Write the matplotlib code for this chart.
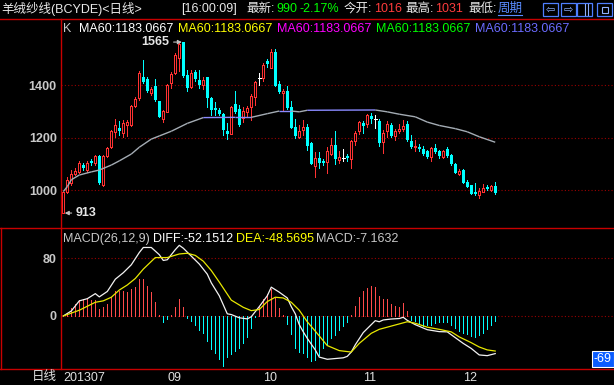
import numpy as np
import matplotlib
matplotlib.use("Agg")
import matplotlib.pyplot as plt
from matplotlib.lines import Line2D
from matplotlib.patches import Rectangle
from matplotlib.collections import LineCollection

plt.rcParams['font.family'] = ['Liberation Sans', 'Noto Sans CJK SC', 'DejaVu Sans']

# Daily candles
opens = [915, 995, 1027, 1063, 1071, 1097, 1077, 1112, 1103, 1131,
         1020, 1132, 1163, 1223, 1236, 1220, 1249, 1249, 1323, 1350,
         1433, 1425, 1369, 1396, 1339, 1272, 1300, 1408, 1448, 1503,
         1565, 1439, 1395, 1450, 1420, 1401, 1430, 1353, 1312, 1306,
         1290, 1226, 1215, 1328, 1310, 1277, 1297, 1319, 1357, 1427,
         1427, 1493, 1467, 1526, 1404, 1372, 1378, 1319, 1241, 1204,
         1230, 1241, 1182, 1094, 1124, 1110, 1109, 1138, 1173, 1116,
         1124, 1132, 1119, 1188, 1224, 1258, 1251, 1283, 1271, 1264,
         1183, 1226, 1249, 1208, 1224, 1234, 1253, 1188, 1163, 1166,
         1157, 1150, 1126, 1160, 1150, 1128, 1156, 1135, 1100, 1062,
         1077, 1033, 1020, 995, 982, 995, 1014, 1001, 1016]
highs = [995, 1052, 1077, 1086, 1112, 1103, 1112, 1119, 1135, 1135,
         1135, 1166, 1230, 1270, 1264, 1267, 1268, 1325, 1357, 1455,
         1498, 1430, 1394, 1425, 1342, 1306, 1404, 1452, 1522, 1560,
         1565, 1458, 1458, 1458, 1458, 1433, 1433, 1357, 1338, 1312,
         1293, 1255, 1321, 1378, 1325, 1319, 1321, 1366, 1417, 1446,
         1484, 1500, 1538, 1538, 1417, 1385, 1397, 1340, 1272, 1249,
         1268, 1253, 1185, 1147, 1144, 1119, 1166, 1201, 1226, 1150,
         1157, 1138, 1192, 1226, 1264, 1264, 1292, 1293, 1287, 1272,
         1230, 1264, 1255, 1232, 1251, 1267, 1264, 1211, 1190, 1177,
         1169, 1154, 1163, 1175, 1154, 1154, 1164, 1137, 1103, 1081,
         1081, 1039, 1020, 1027, 1010, 1024, 1020, 1020, 1031]
lows = [913, 990, 1020, 1058, 1065, 1077, 1071, 1097, 1097, 1024,
        1018, 1128, 1160, 1204, 1211, 1204, 1207, 1246, 1319, 1344,
        1410, 1375, 1362, 1340, 1278, 1259, 1297, 1389, 1445, 1456,
        1432, 1378, 1389, 1417, 1389, 1386, 1319, 1287, 1287, 1287,
        1211, 1194, 1213, 1293, 1245, 1262, 1281, 1268, 1325, 1401,
        1417, 1471, 1465, 1399, 1370, 1306, 1310, 1236, 1201, 1201,
        1211, 1154, 1099, 1052, 1086, 1097, 1064, 1135, 1099, 1103,
        1112, 1112, 1086, 1173, 1213, 1217, 1243, 1255, 1239, 1170,
        1141, 1204, 1204, 1192, 1217, 1224, 1188, 1160, 1150, 1150,
        1135, 1122, 1112, 1141, 1124, 1124, 1128, 1097, 1064, 1058,
        1027, 1011, 985, 982, 970, 992, 1000, 997, 987]
closes = [992, 1038, 1061, 1073, 1103, 1084, 1105, 1102, 1131, 1027,
          1132, 1160, 1224, 1248, 1224, 1258, 1262, 1321, 1347, 1448,
          1413, 1378, 1385, 1343, 1280, 1303, 1401, 1442, 1516, 1556,
          1437, 1389, 1446, 1424, 1401, 1420, 1350, 1306, 1306, 1290,
          1230, 1213, 1319, 1297, 1249, 1302, 1315, 1359, 1411, 1427,
          1478, 1480, 1526, 1399, 1376, 1378, 1315, 1239, 1208, 1226,
          1241, 1170, 1100, 1124, 1104, 1102, 1150, 1173, 1119, 1127,
          1124, 1123, 1188, 1217, 1259, 1246, 1287, 1271, 1271, 1182,
          1217, 1251, 1208, 1225, 1234, 1246, 1192, 1163, 1168, 1157,
          1138, 1126, 1160, 1147, 1132, 1150, 1132, 1100, 1067, 1075,
          1029, 1014, 986, 985, 997, 1010, 1005, 1018, 990]

# MA60 line, sampled points
ma_idx = [0, 1, 2, 4, 7, 9, 12, 14, 17, 19, 22, 24, 27, 31, 35, 43, 47, 51,
          54, 57, 59, 61, 78, 81, 84, 88, 91, 94, 98, 101, 104, 108]
ma_vals = [995, 1014, 1040, 1058, 1070, 1077, 1096, 1112, 1138, 1164, 1195,
           1207, 1225, 1255, 1277, 1278, 1278, 1292, 1302, 1302, 1299, 1305,
           1306, 1299, 1290, 1280, 1260, 1247, 1235, 1223, 1204, 1183]

# MACD(26,12,9)
macd_hist = [0, 4.6, 10.6, 16.6, 22, 23, 23.5, 22, 22, 9.7,
             13, 16, 27, 35, 34, 35, 33, 38, 40, 51.5,
             51.5, 42, 33.5, 20, 0.8, -9, -4.4, 1.4, 13, 24,
             13, -2.3, -6.5, -12.5, -20, -23.5, -34, -46, -52, -60,
             -69, -57, -53, -48, -45, -37, -29, -17, -1.5, 13,
             23, 31, 37.5, 25, 11, 1, -11, -25, -44, -50,
             -51, -57, -63, -61, -54, -45, -40, -31, -26, -19,
             -14, -9, 1, 14, 26, 34, 39, 41.5, 40, 28,
             23, 24, 16, 14, 13, 18, 7, -5, -7, -10,
             -13.5, -12, -13, -10, -9, -8.5, -8, -12, -17, -21,
             -23, -25, -28, -29, -27, -24, -18, -12, -7.2]
diff_idx = [0, 2, 4, 6, 8, 9, 11, 13, 15, 17, 19, 20, 22, 24, 25, 26, 28, 29,
            30, 32, 34, 36, 37, 39, 41, 42, 44, 46, 47, 49, 51, 52, 54, 56,
            57, 58, 59, 60, 61, 63, 64, 66, 68, 70, 71, 72, 73, 75, 78, 79,
            80, 82, 84, 85, 86, 88, 91, 94, 96, 98, 100, 102, 104, 106, 108]
diff_vals = [0, 7, 21, 24, 31, 26.5, 34, 51, 60, 71, 88, 95, 95, 85, 77, 78,
             92, 98, 94, 83, 72, 58, 46, 28, 3, 2, -2.5, -4, -1, 13, 28, 40,
             33, 25, 13, 3, -12, -22, -31, -47, -57, -60, -59, -58, -56, -50,
             -40, -23, -6.5, -8, -5.5, -4.2, -3.5, -1.8, -6, -12, -19, -21.7,
             -22, -30, -38, -45, -54, -55, -52.15]
dea_idx = [0, 4, 8, 10, 12, 14, 16, 18, 20, 23, 26, 29, 31, 33, 35, 37, 39,
           42, 45, 47, 49, 51, 53, 55, 57, 59, 61, 63, 66, 69, 72, 74, 77, 79,
           82, 84, 86, 88, 91, 94, 97, 99, 102, 104, 106, 108]
dea_vals = [0, 8, 19, 21, 26, 36, 43, 52, 65, 81, 81, 86, 87, 84, 76, 63, 47,
            22, 12, 7.4, 9, 20, 26, 25, 19, 8, -8, -21, -41, -48, -50, -38,
            -24, -18.5, -14, -11, -8, -10, -15.5, -18.5, -22, -29, -37, -43,
            -47, -48.57]

month_pos = [0, 26, 50, 75, 100]
month_labels = ['201307', '09', '10', '11', '12']

RED = '#ff3232'
CYAN = '#00ffff'
FRAME = '#c80000'
GRID = '#9a0000'
LABEL = '#c8c8c8'
PX = 0.72  # one pixel in points at 100 dpi

W, H = 614, 385


def fx(px):
    return px / W


def fy(py):
    return 1 - py / H


def frame_line(x0, y0, x1, y1):
    fig.add_artist(Line2D([fx(x0), fx(x1)], [fy(y0), fy(y1)], color=FRAME,
                          lw=1.0, transform=fig.transFigure))


fig = plt.figure(figsize=(6.14, 3.85), dpi=100, facecolor='black')
ax_k = fig.add_axes([fx(61), fy(228), fx(614 - 61), (228 - 19) / H])
ax_m = fig.add_axes([fx(61), fy(369), fx(614 - 61), (369 - 228) / H])

for ax in (ax_k, ax_m):
    ax.set_facecolor('black')
    for s in ax.spines.values():
        s.set_visible(False)
    ax.set_xlim(-0.58, 137.7)
    ax.tick_params(axis='both', length=0, pad=3, labelcolor=LABEL, labelsize=9)

ax_k.set_ylim(856, 1653)
ax_m.set_ylim(-73.5, 122)
ax_k.set_yticks([1000, 1200, 1400])
ax_m.set_yticks([0, 80])
for ax in (ax_k, ax_m):
    for lab in ax.get_yticklabels():
        lab.set_fontweight('bold')
    ax.grid(axis='y', color=GRID, linestyle=(0, (1, 2)), lw=0.8)
    ax.set_axisbelow(True)
ax_k.set_xticks([])

# ---- candles
idx = np.arange(len(closes))
o, h, l, c = (np.array(v, dtype=float) for v in (opens, highs, lows, closes))
up = c > o
dn = c < o
dj = c == o
ax_k.vlines(idx[up], l[up], h[up], color=RED, lw=PX, zorder=2, antialiased=False)
ax_k.bar(idx[up], c[up] - o[up], bottom=o[up], width=0.5, facecolor='black',
         edgecolor=RED, linewidth=PX, zorder=3, antialiased=False)
ax_k.vlines(idx[dn], l[dn], h[dn], color=CYAN, lw=PX, zorder=2, antialiased=False)
ax_k.bar(idx[dn], o[dn] - c[dn], bottom=c[dn], width=0.75, color=CYAN,
         linewidth=0, zorder=3, antialiased=False)
ax_k.vlines(idx[dj], l[dj], h[dj], color='white', lw=PX, zorder=2, antialiased=False)
ax_k.hlines(c[dj], idx[dj] - 0.4, idx[dj] + 0.4, color='white', lw=PX, zorder=3,
            antialiased=False)

# ---- MA60 (gray when moving, lavender when flat)
pts = np.column_stack([ma_idx, ma_vals])
segs = np.stack([pts[:-1], pts[1:]], axis=1)
slope = np.abs(np.diff(ma_vals) / np.diff(ma_idx))
seg_cols = ['#8a8aff' if s < 0.6 else '#a4acb4' for s in slope]
ax_k.add_collection(LineCollection(segs, colors=seg_cols, linewidths=1.0, zorder=4))

# high / low markers
ann_col = '#e6e6e6'
ax_k.annotate('1565', xy=(30, 1565), xytext=(-10, 0), textcoords='offset points',
              ha='right', va='center', color=ann_col, fontsize=9, fontweight='bold',
              arrowprops=dict(arrowstyle='-|>', color='#c0c0c0', lw=0.8,
                              mutation_scale=6, shrinkA=1, shrinkB=1))
ax_k.annotate('913', xy=(0, 913), xytext=(9, 0), textcoords='offset points',
              ha='left', va='center', color=ann_col, fontsize=9, fontweight='bold',
              arrowprops=dict(arrowstyle='-|>', color='#c0c0c0', lw=0.8,
                              mutation_scale=6, shrinkA=1, shrinkB=1))

# ---- MACD panel
hist = np.array(macd_hist)
pos = hist >= 0
ax_m.vlines(idx[pos], 0, hist[pos], color='#ff4a4a', lw=PX, antialiased=False)
ax_m.vlines(idx[~pos], 0, hist[~pos], color=CYAN, lw=PX, antialiased=False)
ax_m.plot(diff_idx, diff_vals, color='#f2f2f2', lw=0.9)
ax_m.plot(dea_idx, dea_vals, color='#e8e800', lw=0.9)

ax_m.set_xticks(month_pos, month_labels)
ax_m.tick_params(axis='x', pad=2, labelcolor='#e0e0e0', labelsize=9)
for lab in ax_m.get_xticklabels():
    lab.set_horizontalalignment('left')

# ---- frame lines
frame_line(0, 18.7, 614, 18.7)
frame_line(0, 228, 614, 228)
frame_line(0, 369, 614, 369)
frame_line(61, 18.7, 61, 369)
frame_line(1, 228, 1, 369)

# ---- title bar
ty = fy(9)
fig.text(fx(1), ty, '羊绒纱线(BCYDE)<日线>', color='#e8e8e8', fontsize=9, va='center')
title_parts = [(181, '[16:00:09]', '#e8e8e8'), (246, '最新:', '#e8e8e8'),
               (276, '990', '#00ff00'), (300, '-2.17%', '#00ff00'),
               (344, '今开:', '#e8e8e8'), (374, '1016', '#ff3c3c'),
               (405, '最高:', '#e8e8e8'), (435, '1031', '#ff3c3c'),
               (468, '最低:', '#e8e8e8')]
for px, txt, col in title_parts:
    fig.text(fx(px), ty, txt, color=col, fontsize=9, va='center')
fig.text(fx(498), ty, '周期', color='#5a8cff', fontsize=9, va='center')
fig.add_artist(Line2D([fx(498), fx(522)], [fy(15), fy(15)], color='#5a8cff', lw=0.8,
                      transform=fig.transFigure))
icons = [(543, '⇦'), (561, '⇨'), (577, ''), (597, '')]
for px, glyph in icons:
    fig.add_artist(Rectangle((fx(px), fy(16)), fx(15), 13 / H, fill=False,
                             edgecolor='#4f7fff', lw=0.9, transform=fig.transFigure))
    if glyph:
        fig.text(fx(px + 7.5), fy(9.5), glyph, color='#8fb0ff', fontsize=8,
                 ha='center', va='center', family='DejaVu Sans')
fig.add_artist(Line2D([fx(585), fx(585)], [fy(4), fy(15)], color='#8fb0ff', lw=0.8,
                      transform=fig.transFigure))
fig.add_artist(Line2D([fx(588), fx(588)], [fy(4), fy(15)], color='#8fb0ff', lw=0.8,
                      transform=fig.transFigure))
fig.add_artist(Rectangle((fx(602), fy(13)), fx(6), 6 / H, fill=False,
                         edgecolor='#8fb0ff', lw=0.8, transform=fig.transFigure))

# ---- legend row
ly = fy(28.5)
fig.text(fx(63), ly, 'K', color=LABEL, fontsize=9, va='center')
legend_cols = [(79, '#ffffff'), (178, '#ffff00'), (277, '#ff00ff'),
               (376, '#00ff00'), (475, '#6b6bff')]
for px, col in legend_cols:
    fig.text(fx(px), ly, 'MA60:1183.0667', color=col, fontsize=9, va='center')

my = fy(239)
macd_parts = [(63, 'MACD(26,12,9)', LABEL), (153, 'DIFF:-52.1512', '#ffffff'),
              (236, 'DEA:-48.5695', '#ffff00'), (316, 'MACD:-7.1632', LABEL)]
for px, txt, col in macd_parts:
    fig.text(fx(px), my, txt, color=col, fontsize=9, va='center')

fig.text(fx(603), fy(359), '-69', color='white', fontsize=9, ha='center', va='center',
         bbox=dict(facecolor='#0a5cff', edgecolor='white', pad=1.2, lw=0.8))
fig.text(fx(57), fy(377), '日线', color='#e0e0e0', fontsize=9, ha='right', va='center')

fig.savefig('out.png', dpi=100, facecolor='black')
